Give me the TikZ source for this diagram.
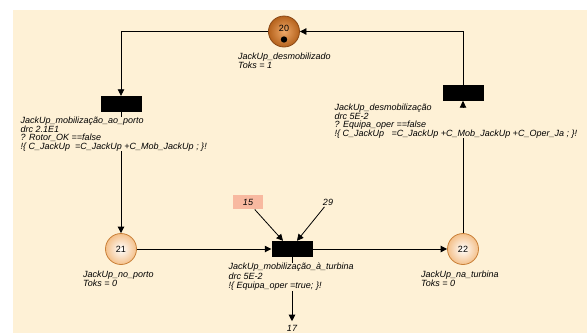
\documentclass[tikz,border=0pt]{standalone}
\usepackage{fontspec}
\setmainfont{Liberation Sans}
\usepackage{tikz}
\usetikzlibrary{positioning,arrows.meta}
\definecolor{ink}      {HTML}{000000}
\definecolor{cream}    {HTML}{FEF1D6}
\definecolor{placerim} {HTML}{C98038}
\definecolor{placeout} {HTML}{F4C08A}
\definecolor{busyin}   {HTML}{EEA868}
\definecolor{busyout}  {HTML}{B5621C}
\definecolor{busyrim}  {HTML}{8A4816}
\definecolor{salmon}   {HTML}{F8B9A0}
\tikzset{
  >={Triangle[length=6.5pt,width=6.5pt]},
  every node/.style={font=\fontsize{9}{9}\selectfont},
  % --- nodes
  place/.style = {circle, minimum size=31, inner sep=0, draw=placerim, line width=0.8pt,
                  inner color=white, outer color=placeout},
  busy/.style  = {place, draw=busyrim, inner color=busyin, outer color=busyout},
  trans/.style = {rectangle, fill=ink, minimum width=41, minimum height=16, inner sep=0},
  lbl/.style   = {anchor=north west, align=left, inner sep=0, fill=cream,
                  font=\fontsize{9}{8.8}\selectfont\itshape},
  num/.style   = {inner sep=1pt, font=\fontsize{9}{9}\selectfont\itshape},
  res/.style   = {num, fill=salmon, minimum width=30, minimum height=14.6},
  % --- edges
  arc/.style   = {->, line width=0.8pt, draw=ink},
}
\begin{document}
\begin{tikzpicture}[x=1pt,y=-1pt]
  \useasboundingbox (0,0) rectangle (587,333);
  \fill[cream] (13,10) rectangle (587,333);

  % places
  \node[busy]  (p20) at (284,31.5) {};
  \node        (n20) at (284,28) {20};
  \fill[ink] ([yshift=-8pt]p20.center) circle (3.2pt);
  \node[place] (p21) at (121,249) {21};
  \node[place] (p22) at (463,249) {22};

  % transitions
  \node[trans] (tMob)  at (121,104) {};
  \node[trans] (tTurb) at (292,249) {};
  \node[trans] (tDesm) at (463,93) {};

  % resources
  \node[res] (r15) at (248,202) {15};
  \node[num] (r29) at (328,202.5) {29};
  \node[num, inner sep=4pt] (r17) at (292,328.5) {17};

  % arcs
  \draw[arc] (p20) -| (tMob);
  \draw[arc] (tMob) -- (p21);
  \draw[arc] (p21) -- (tTurb);
  \draw[arc] (r15) -- ([xshift=-9pt]tTurb.north);
  \draw[arc] (r29) -- ([xshift=5pt]tTurb.north);
  \draw[arc] (tTurb) -- (r17);
  \draw[arc] (tTurb) -- (p22);
  \draw[arc] (p22) -- (tDesm);
  \draw[arc] (tDesm) |- (p20);

  % labels
  \node[lbl] (l20)  at (238,52.5)  {JackUp\_desmobilizado\\Toks = 1};
  \node[lbl] (lMob) at (20.5,116.5) {JackUp\_mobilização\_ao\_porto\\drc 2.1E1\\? Rotor\_OK ==false\\
    !\{ C\_JackUp\ \ =C\_JackUp +C\_Mob\_JackUp ; \}!};
  \node[lbl] (l21)  at (83,270.5)  {JackUp\_no\_porto\\Toks = 0};
  \node[lbl, font=\fontsize{9}{9.4}\selectfont\itshape] (lTurb) at (228.5,263)
    {JackUp\_mobilização\_à\_turbina\\drc 5E-2\\!\{ Equipa\_oper =true; \}!};
  \node[lbl] (l22)  at (421,270.5) {JackUp\_na\_turbina\\Toks = 0};
  \node[lbl, font=\fontsize{9}{8.6}\selectfont\itshape] (lDesm) at (334.5,104)
    {JackUp\_desmobilização\\drc 5E-2\\? Equipa\_oper ==false\\
    !\{ C\_JackUp\ \ \ =C\_JackUp +C\_Mob\_JackUp +C\_Oper\_Ja ; \}!};
  % tip over the label
  \draw[arc] ([yshift=-6pt]tDesm.south) -- (tDesm);
\end{tikzpicture}
\end{document}
